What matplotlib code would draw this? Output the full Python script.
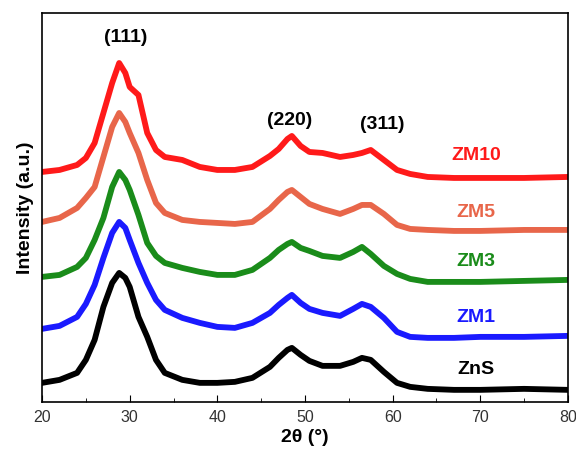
import matplotlib
matplotlib.use("Agg")
import matplotlib.pyplot as plt
from matplotlib.ticker import MultipleLocator

plt.rcParams['font.family'] = ['Liberation Sans', 'DejaVu Sans']

# 2theta positions (deg) where the curves were read
two_theta = [20, 22, 24, 25, 26, 27, 28, 28.8, 29.5, 30, 31, 32, 33, 34, 36, 38, 40, 42, 44, 46,
             47, 48, 48.5, 49.5, 50.5, 52, 54, 55.5, 56.5, 57.5, 59, 60.5, 62, 64, 67, 70, 75, 80]

# stacked intensities (a.u.), already offset as in the figure
zns = [19, 22, 29, 42, 62, 95, 119, 129, 124, 115, 85, 65, 42, 29, 22, 19, 19, 20, 24, 35,
       44, 52, 54, 47, 41, 36, 36, 40, 44, 42, 30, 19, 15, 13, 12, 12, 13, 12]
zm1 = [73, 76, 85, 98, 117, 144, 169, 180, 174, 162, 139, 119, 102, 92, 84, 79, 75, 74, 79, 89,
       97, 104, 107, 99, 93, 89, 86, 93, 98, 95, 84, 70, 65, 64, 64, 65, 65, 66]
zm3 = [125, 127, 135, 144, 162, 184, 215, 230, 222, 212, 187, 159, 146, 139, 134, 130, 127, 127, 132, 144,
       152, 158, 160, 154, 151, 146, 144, 150, 155, 148, 136, 128, 123, 120, 120, 120, 121, 122]
zm5 = [180, 184, 194, 204, 215, 245, 275, 289, 280, 269, 249, 222, 199, 189, 182, 180, 179, 178, 180, 193,
       202, 210, 212, 205, 198, 193, 188, 193, 197, 197, 188, 177, 173, 172, 171, 171, 172, 172]
zm10 = [230, 232, 237, 244, 259, 289, 319, 339, 329, 315, 307, 269, 252, 245, 242, 235, 232, 232, 235, 246,
        253, 263, 266, 256, 250, 249, 245, 247, 249, 252, 242, 232, 228, 225, 224, 224, 224, 225]

names = ['ZnS', 'ZM1', 'ZM3', 'ZM5', 'ZM10']
series = [zns, zm1, zm3, zm5, zm10]
colors = ['black', '#1a1aff', '#1a8c1a', '#e8664a', '#ff1a1a']
label_y = [32, 84, 140, 189, 246]

peaks = ['(111)', '(220)', '(311)']
peak_x = [29.5, 48.3, 58.8]
peak_y = [365, 281, 277]

fig = plt.figure(figsize=(5.76, 4.49), dpi=100)
ax = fig.add_axes([0.073, 0.105, 0.913, 0.866])

for name, y, c, ly in zip(names, series, colors, label_y):
    ax.plot(two_theta, y, color=c, linewidth=4.2, solid_joinstyle='round')
    ax.text(69.5, ly, name, color=c, fontsize=14, fontweight='bold', ha='center', va='center')

for p, px, py in zip(peaks, peak_x, peak_y):
    ax.text(px, py, p, fontsize=14, fontweight='bold', ha='center', va='center')

ax.set_xlim(20, 80)
ax.set_ylim(0, 389)
ax.set_yticks([])
ax.xaxis.set_major_locator(MultipleLocator(10))
ax.xaxis.set_minor_locator(MultipleLocator(5))
ax.tick_params(axis='x', which='major', direction='in', length=5, labelsize=11.5, labelcolor='#333333', pad=6)
ax.tick_params(axis='x', which='minor', direction='in', length=3)
ax.tick_params(axis='x', which='both', top=False)

ax.set_xlabel('2θ (°)', fontsize=14, fontweight='bold', labelpad=3)
ax.set_ylabel('Intensity (a.u.)', fontsize=14, fontweight='bold', labelpad=6)

for s in ax.spines.values():
    s.set_linewidth(1.2)

fig.savefig('out.png', dpi=100)
